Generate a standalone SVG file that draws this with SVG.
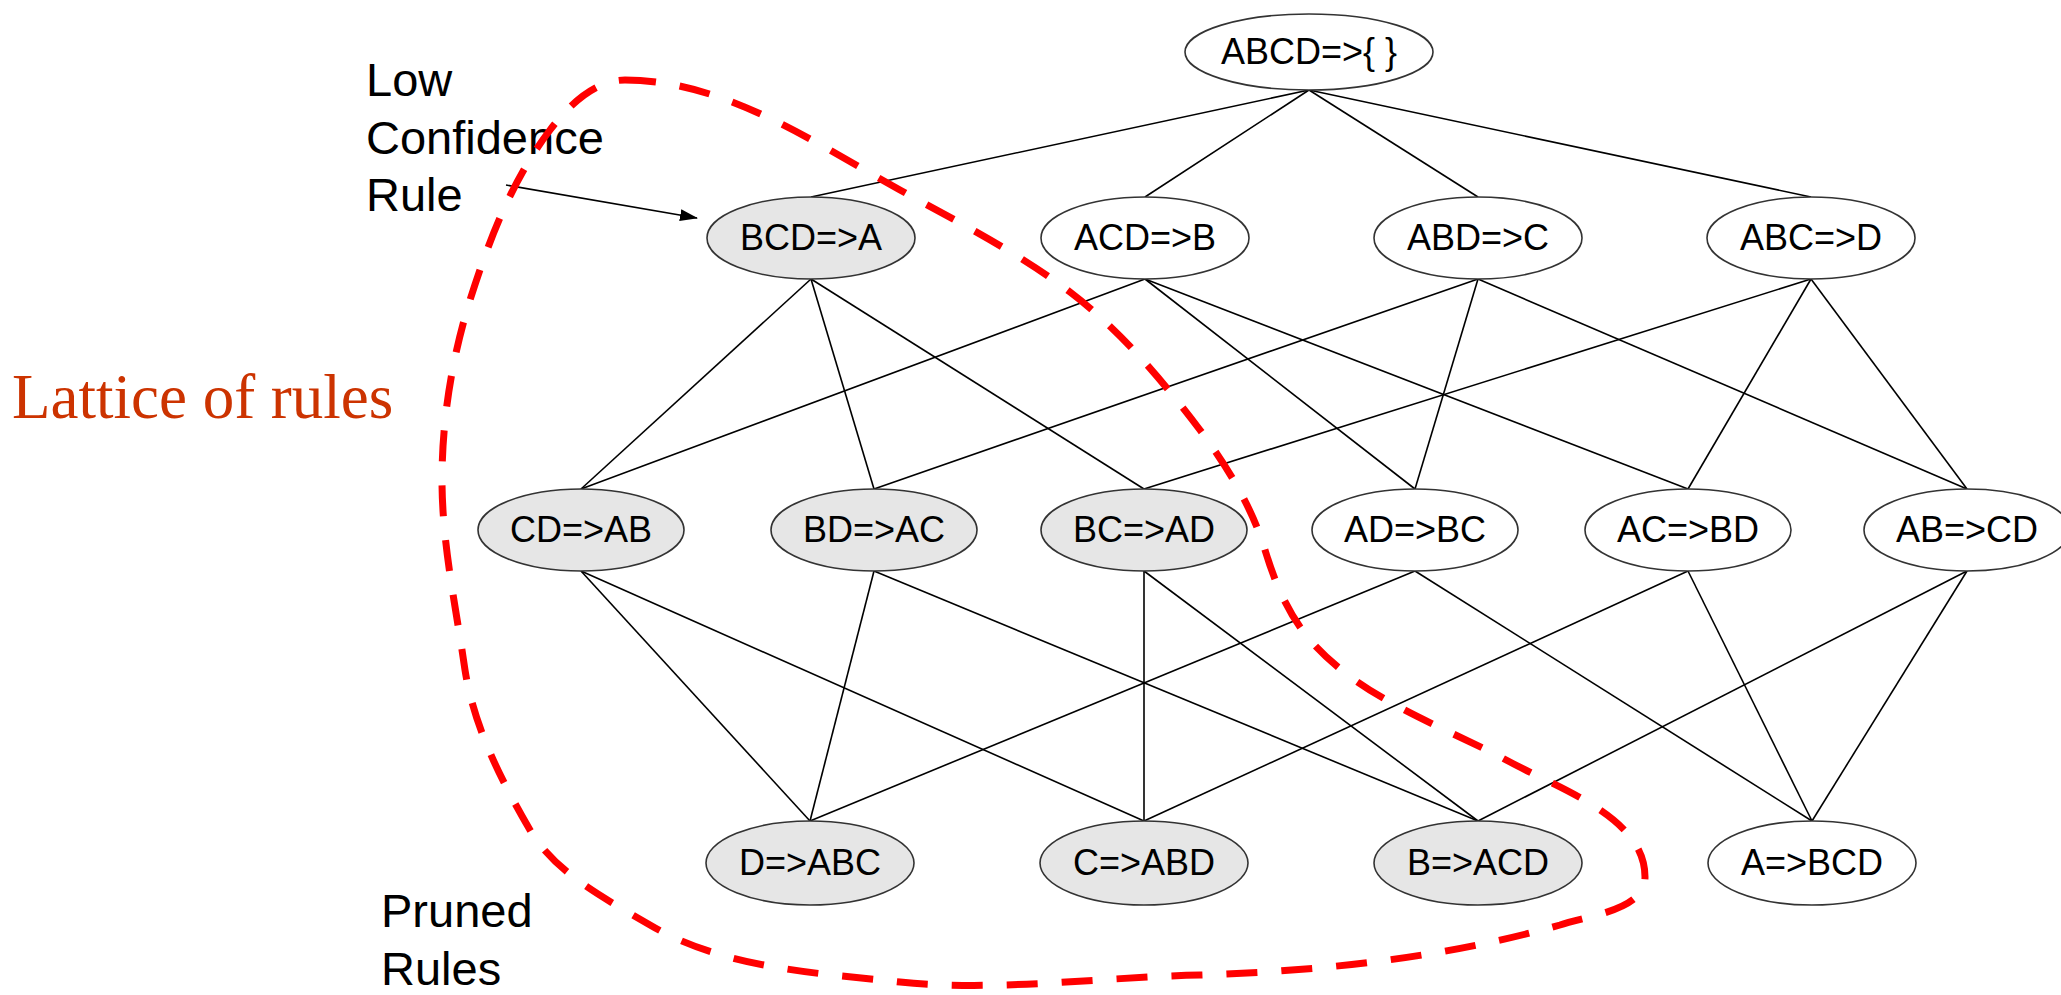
<svg xmlns="http://www.w3.org/2000/svg" width="2061" height="995" viewBox="0 0 2061 995">
<style>
.n ellipse{fill:#fff;stroke:#333;stroke-width:1.6}
.g ellipse{fill:#e6e6e6}
.n text{font-family:"Liberation Sans",Arial,sans-serif;font-size:36px;text-anchor:middle;fill:#000}
.e line{stroke:#000;stroke-width:1.6}
.lbl{font-family:"Liberation Sans",Arial,sans-serif;font-size:47px;fill:#000}
</style>
<defs>
<marker id="ah" markerWidth="18" markerHeight="12" refX="17" refY="6" orient="auto" markerUnits="userSpaceOnUse" viewBox="0 0 18 12">
<path d="M0,0 L18,6 L0,12 z" fill="#000"/>
</marker>
</defs>
<rect width="2061" height="995" fill="#fff"/>
<g id="connectors" class="e">
<line x1="1309" y1="90" x2="811" y2="197"/>
<line x1="1309" y1="90" x2="1145" y2="197"/>
<line x1="1309" y1="90" x2="1478" y2="197"/>
<line x1="1309" y1="90" x2="1811" y2="197"/>
<line x1="811" y1="279" x2="581" y2="489"/>
<line x1="811" y1="279" x2="874" y2="489"/>
<line x1="811" y1="279" x2="1144" y2="489"/>
<line x1="1145" y1="279" x2="581" y2="489"/>
<line x1="1145" y1="279" x2="1415" y2="489"/>
<line x1="1145" y1="279" x2="1688" y2="489"/>
<line x1="1478" y1="279" x2="874" y2="489"/>
<line x1="1478" y1="279" x2="1415" y2="489"/>
<line x1="1478" y1="279" x2="1967" y2="489"/>
<line x1="1811" y1="279" x2="1144" y2="489"/>
<line x1="1811" y1="279" x2="1688" y2="489"/>
<line x1="1811" y1="279" x2="1967" y2="489"/>
<line x1="581" y1="571" x2="810" y2="821"/>
<line x1="581" y1="571" x2="1144" y2="821"/>
<line x1="874" y1="571" x2="810" y2="821"/>
<line x1="874" y1="571" x2="1478" y2="821"/>
<line x1="1144" y1="571" x2="1144" y2="821"/>
<line x1="1144" y1="571" x2="1478" y2="821"/>
<line x1="1415" y1="571" x2="810" y2="821"/>
<line x1="1415" y1="571" x2="1812" y2="821"/>
<line x1="1688" y1="571" x2="1144" y2="821"/>
<line x1="1688" y1="571" x2="1812" y2="821"/>
<line x1="1967" y1="571" x2="1478" y2="821"/>
<line x1="1967" y1="571" x2="1812" y2="821"/>
<line x1="506" y1="185" x2="697" y2="218" stroke-width="2" marker-end="url(#ah)"/>
</g>
<g id="n-abcd" class="n"><ellipse cx="1309" cy="52" rx="124" ry="38"/><text x="1309" y="64">ABCD=&gt;{ }</text></g>
<g id="n-bcd-a" class="n g"><ellipse cx="811" cy="238" rx="104" ry="41"/><text x="811" y="250">BCD=&gt;A</text></g>
<g id="n-acd-b" class="n"><ellipse cx="1145" cy="238" rx="104" ry="41"/><text x="1145" y="250">ACD=&gt;B</text></g>
<g id="n-abd-c" class="n"><ellipse cx="1478" cy="238" rx="104" ry="41"/><text x="1478" y="250">ABD=&gt;C</text></g>
<g id="n-abc-d" class="n"><ellipse cx="1811" cy="238" rx="104" ry="41"/><text x="1811" y="250">ABC=&gt;D</text></g>
<g id="n-cd-ab" class="n g"><ellipse cx="581" cy="530" rx="103" ry="41"/><text x="581" y="542">CD=&gt;AB</text></g>
<g id="n-bd-ac" class="n g"><ellipse cx="874" cy="530" rx="103" ry="41"/><text x="874" y="542">BD=&gt;AC</text></g>
<g id="n-bc-ad" class="n g"><ellipse cx="1144" cy="530" rx="103" ry="41"/><text x="1144" y="542">BC=&gt;AD</text></g>
<g id="n-ad-bc" class="n"><ellipse cx="1415" cy="530" rx="103" ry="41"/><text x="1415" y="542">AD=&gt;BC</text></g>
<g id="n-ac-bd" class="n"><ellipse cx="1688" cy="530" rx="103" ry="41"/><text x="1688" y="542">AC=&gt;BD</text></g>
<g id="n-ab-cd" class="n"><ellipse cx="1967" cy="530" rx="103" ry="41"/><text x="1967" y="542">AB=&gt;CD</text></g>
<g id="n-d-abc" class="n g"><ellipse cx="810" cy="863" rx="104" ry="42"/><text x="810" y="875">D=&gt;ABC</text></g>
<g id="n-c-abd" class="n g"><ellipse cx="1144" cy="863" rx="104" ry="42"/><text x="1144" y="875">C=&gt;ABD</text></g>
<g id="n-b-acd" class="n g"><ellipse cx="1478" cy="863" rx="104" ry="42"/><text x="1478" y="875">B=&gt;ACD</text></g>
<g id="n-a-bcd" class="n"><ellipse cx="1812" cy="863" rx="104" ry="42"/><text x="1812" y="875">A=&gt;BCD</text></g>
<g id="labels">
<text class="lbl" x="366" y="96">Low</text>
<text class="lbl" x="366" y="154">Confidence</text>
<text class="lbl" x="366" y="211">Rule</text>
<text class="lbl" x="381" y="927">Pruned</text>
<text class="lbl" x="381" y="985">Rules</text>
<text x="12" y="418" font-family="'Liberation Serif','Times New Roman',serif" font-size="63" fill="#cc3300">Lattice of rules</text>
</g>
<path id="pruned-boundary" fill="none" stroke="#ff0000" stroke-width="7" stroke-dasharray="31 24" d="M625,80 C724,80 813,142 900,190 C958,222 1017,252 1070,292 C1120,330 1162,380 1200,430 C1227,466 1252,507 1265,550 C1275,583 1288,614 1310,640 C1361,699 1441,725 1510,762 C1562,790 1645,818 1645,877 C1645,910 1591,915 1560,925 C1443,958 1321,971 1200,975 C1100,977 1000,992 900,982 C815,973 723,968 650,925 C606,899 555,873 530,830 C501,780 474,727 465,670 C456,607 442,544 442,480 C442,419 452,358 470,300 C489,240 512,180 550,130 C568,106 595,80 625,80 Z"/>
</svg>
